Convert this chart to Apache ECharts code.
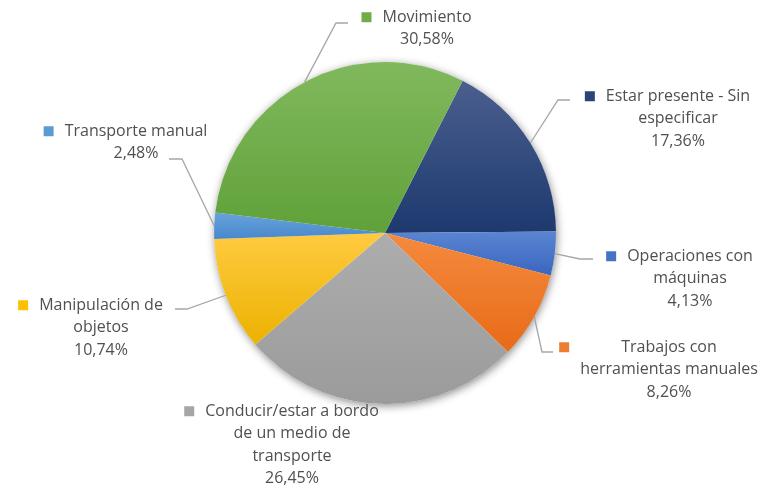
<!DOCTYPE html>
<html>
<head>
<meta charset="utf-8">
<script src="https://cdn.jsdelivr.net/npm/echarts@6/dist/echarts.min.js"></script>
<style>
  html, body { margin: 0; padding: 0; background: #ffffff; }
  #chart { width: 760px; height: 485px; }
</style>
</head>
<body>
<div id="chart"></div>
<script>
// Slices, clockwise from the first one
const categories = [
  'Estar presente - Sin\nespecificar',
  'Operaciones con\nmáquinas',
  'Trabajos con\nherramientas manuales',
  'Conducir/estar a bordo\nde un medio de\ntransporte',
  'Manipulación de\nobjetos',
  'Transporte manual',
  'Movimiento'
];
const shares = [17.36, 4.13, 8.26, 26.45, 10.74, 2.48, 30.58];

// Fill colours: lighter at the top of each slice, darker at the bottom
const topColors    = ['#4b5f8f', '#5b85d2', '#f58a3e', '#adadad', '#ffca40', '#69a3de', '#80b95d'];
const bottomColors = ['#1d396e', '#3966bf', '#e76b18', '#9b9b9b', '#ebb200', '#4888ca', '#60a139'];
const keyColors    = ['#2a4478', '#4472c4', '#ed7d31', '#a5a5a5', '#ffc000', '#5b9bd5', '#70ad47'];

// Label placement: centre x of the text lines, top y of the block
const labelSpots = [[678, 85], [690, 245], [669, 336], [292, 400], [101, 294], [136, 120], [427, 6]];
// Leader line bend and end points (null: no leader)
const leaderBends = [
  [[558, 100], [570, 100]],
  [[580, 259], [593, 259]],
  [[542, 352], [553, 352]],
  null,
  [[187, 309], [175, 309]],
  [[182, 159], [169, 159]],
  [[336, 23], [348, 23]]
];

const KEY = 10, GAP = 11;
const PIE_CENTER = [385, 233];
const PIE_RADIUS = 171;

const chart = echarts.init(document.getElementById('chart'), null, { renderer: 'canvas' });

const rich = {
  g: { width: GAP, height: KEY, align: 'left' },
  s: { width: KEY + GAP, height: KEY, align: 'left' },
  t: { align: 'center', color: '#505050', fontSize: 16, fontFamily: 'Open Sans', lineHeight: 22.5 }
};
keyColors.forEach(function (c, i) {
  rich['k' + i] = { width: KEY, height: KEY, backgroundColor: c, align: 'left' };
});

function pct(v) {
  return v.toFixed(2).replace('.', ',') + '%';
}

const pieData = shares.map(function (v, i) {
  const item = {
    name: categories[i],
    value: v,
    itemStyle: {
      color: new echarts.graphic.LinearGradient(0, 0, 0, 1, [
        { offset: 0, color: topColors[i] },
        { offset: 1, color: bottomColors[i] }
      ])
    }
  };
  if (!leaderBends[i]) item.labelLine = { show: false };
  return item;
});

chart.setOption({
  animation: false,
  backgroundColor: '#ffffff',
  series: [
    {
      // soft drop shadow under the whole disc
      type: 'pie',
      silent: true,
      z: 1,
      center: PIE_CENTER,
      radius: PIE_RADIUS,
      label: { show: false },
      labelLine: { show: false },
      itemStyle: {
        color: '#ffffff',
        shadowBlur: 9,
        shadowColor: 'rgba(0,0,0,0.45)',
        shadowOffsetX: 1,
        shadowOffsetY: 2
      },
      data: [{ value: 1, name: '' }]
    },
    {
      type: 'pie',
      z: 2,
      center: PIE_CENTER,
      radius: PIE_RADIUS,
      startAngle: 63,
      clockwise: true,
      avoidLabelOverlap: false,
      itemStyle: { borderWidth: 0 },
      label: {
        show: true,
        position: 'outside',
        fontFamily: 'Open Sans',
        fontSize: 16,
        color: '#505050',
        lineHeight: 22.5,
        rich: rich,
        formatter: function (p) {
          const lines = p.name.split('\n');
          const out = ['{k' + p.dataIndex + '|}{g|}{t|' + lines[0] + '}'];
          for (let j = 1; j < lines.length; j++) out.push('{s|}{t|' + lines[j] + '}');
          out.push('{s|}{t|' + pct(p.value) + '}');
          return out.join('\n');
        }
      },
      labelLine: {
        show: true,
        smooth: false,
        lineStyle: { color: '#a6a6a6', width: 1.3 }
      },
      labelLayout: function (params) {
        const i = params.dataIndex;
        const spot = labelSpots[i];
        const res = {
          x: spot[0] - (KEY + GAP) / 2,
          y: spot[1],
          align: 'center',
          verticalAlign: 'top'
        };
        const bends = leaderBends[i];
        if (bends && params.labelLinePoints) {
          const start = params.labelLinePoints[0];
          res.labelLinePoints = [[start[0], start[1]], bends[0], bends[1]];
        }
        return res;
      },
      data: pieData
    }
  ]
});
</script>
</body>
</html>
